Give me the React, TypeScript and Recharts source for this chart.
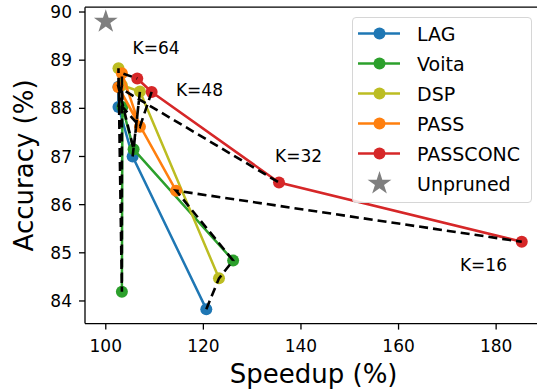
import React from 'react'
import { ScatterChart, Scatter, XAxis, YAxis, ReferenceLine } from 'recharts'

// pruning budgets, one point per K in each method
const K_VALUES = [64, 48, 32, 16]

const LAG_SPEEDUP = [102.6, 102.6, 105.5, 120.6]
const LAG_ACC = [88.45, 88.03, 87.0, 83.83]

const VOITA_SPEEDUP = [103.3, 103.4, 105.7, 126.1]
const VOITA_ACC = [84.19, 88.03, 87.15, 84.84]

const DSP_SPEEDUP = [102.6, 103.3, 107.0, 123.2]
const DSP_ACC = [88.83, 88.48, 88.35, 84.47]

const PASS_SPEEDUP = [103.3, 107.0, 102.6, 114.4]
const PASS_ACC = [88.73, 87.62, 88.44, 86.29]

const PASSCONC_SPEEDUP = [106.45, 109.4, 135.5, 185.25]
const PASSCONC_ACC = [88.62, 88.34, 86.46, 85.23]

const UNPRUNED_SPEEDUP = [100]
const UNPRUNED_ACC = [89.8]

// K annotations next to the PASSCONC curve
const K_LABELS = ['K=64', 'K=48', 'K=32', 'K=16']
const K_LABEL_X = [110.3, 119.2, 139.5, 177.4]
const K_LABEL_Y = [89.25, 88.38, 87.01, 84.75]

const X_TICKS = [100, 120, 140, 160, 180]
const Y_TICKS = [84, 85, 86, 87, 88, 89, 90]
const X_DOMAIN: [number, number] = [95.74, 189.46]
const Y_DOMAIN: [number, number] = [83.53, 90.1]

const FONT = '"DejaVu Sans", Verdana, sans-serif'

const toPoints = (xs: number[], ys: number[]) =>
  xs.map((x, i) => ({ x, y: ys[i], k: K_VALUES[i] }))

const methods = [
  { name: 'LAG', color: '#1f77b4', points: toPoints(LAG_SPEEDUP, LAG_ACC) },
  { name: 'Voita', color: '#2ca02c', points: toPoints(VOITA_SPEEDUP, VOITA_ACC) },
  { name: 'DSP', color: '#bcbd22', points: toPoints(DSP_SPEEDUP, DSP_ACC) },
  { name: 'PASS', color: '#ff7f0e', points: toPoints(PASS_SPEEDUP, PASS_ACC) },
  { name: 'PASSCONC', color: '#d62728', points: toPoints(PASSCONC_SPEEDUP, PASSCONC_ACC) },
]

// dashed iso-K curves visit the methods in this order
const K_CURVE_ORDER = ['LAG', 'DSP', 'Voita', 'PASS', 'PASSCONC']
const kCurves = K_VALUES.map((k, i) => ({
  k,
  points: K_CURVE_ORDER.map((n) => methods.find((m) => m.name === n)!.points[i]),
}))

const unpruned = UNPRUNED_SPEEDUP.map((x, i) => ({ x, y: UNPRUNED_ACC[i] }))
const kLabels = K_LABELS.map((text, i) => ({ x: K_LABEL_X[i], y: K_LABEL_Y[i], text }))

function starPoints(cx: number, cy: number, R: number) {
  const r = R * 0.382
  const pts: string[] = []
  for (let i = 0; i < 10; i++) {
    const a = -Math.PI / 2 + (i * Math.PI) / 5
    const rad = i % 2 === 0 ? R : r
    pts.push(`${cx + rad * Math.cos(a)},${cy + rad * Math.sin(a)}`)
  }
  return pts.join(' ')
}

const dot = (color: string) => (p: any) => <circle cx={p.cx} cy={p.cy} r={6} fill={color} />
const star = (p: any) => <polygon points={starPoints(p.cx, p.cy, 12.5)} fill="#7f7f7f" />
const noMarker = () => <g />
const kText = (p: any) => (
  <text x={p.cx} y={p.cy} dy={6.2} textAnchor="middle" fontSize={17} fontFamily={FONT} fill="#000">
    {p.payload.text}
  </text>
)

function LegendBox() {
  const rows = [
    ...methods.map((m) => ({ name: m.name, color: m.color, star: false })),
    { name: 'Unpruned', color: '#7f7f7f', star: true },
  ]
  return (
    <div
      style={{
        position: 'absolute', left: 352, top: 17, width: 180, height: 186,
        border: '1px solid #d6d6d6', borderRadius: 4, boxSizing: 'border-box',
        background: 'rgba(255,255,255,0.85)',
      }}
    >
      <svg width={178} height={184} style={{ display: 'block' }}>
        {rows.map((r, i) => {
          const cy = 15.5 + i * 30
          return (
            <g key={r.name}>
              {r.star ? (
                <polygon points={starPoints(26.5, cy, 12.5)} fill={r.color} />
              ) : (
                <>
                  <line x1={5} x2={47} y1={cy} y2={cy} stroke={r.color} strokeWidth={2.5} />
                  <circle cx={26.5} cy={cy} r={6} fill={r.color} />
                </>
              )}
              <text x={64} y={cy} dy={7} fontSize={19} fontFamily={FONT} fill="#000">
                {r.name}
              </text>
            </g>
          )
        })}
      </svg>
    </div>
  )
}

export default function App() {
  const axisStroke = { stroke: '#000', strokeWidth: 1.3 }
  const tick = { fontSize: 17, fill: '#000', fontFamily: FONT }
  return (
    <div style={{ position: 'absolute', left: 0, top: 0, width: 537, height: 390, overflow: 'hidden', background: '#fff' }}>
      <ScatterChart width={560} height={390} margin={{ top: 7.2, right: 17.7, bottom: 0, left: 0 }}>
        <XAxis
          type="number"
          dataKey="x"
          domain={X_DOMAIN}
          ticks={X_TICKS}
          allowDataOverflow
          height={66.4}
          tickSize={6}
          tickMargin={10}
          tick={tick}
          axisLine={axisStroke}
          tickLine={axisStroke}
          label={{ value: 'Speedup (%)', position: 'insideBottom', offset: 7, fontSize: 26, fill: '#000', fontFamily: FONT }}
        />
        <YAxis
          type="number"
          dataKey="y"
          domain={Y_DOMAIN}
          ticks={Y_TICKS}
          allowDataOverflow
          width={85}
          tickSize={6}
          tickMargin={7}
          tick={tick}
          axisLine={axisStroke}
          tickLine={axisStroke}
          label={{
            value: 'Accuracy (%)', angle: -90, position: 'insideLeft', offset: 24,
            fontSize: 26, fill: '#000', fontFamily: FONT, style: { textAnchor: 'middle' },
          }}
        />
        <ReferenceLine y={Y_DOMAIN[1]} stroke="#000" strokeWidth={1.3} ifOverflow="visible" />
        <ReferenceLine x={X_DOMAIN[1]} stroke="#000" strokeWidth={1.3} ifOverflow="visible" />

        {methods.map((m) => (
          <Scatter
            key={m.name}
            name={m.name}
            data={m.points}
            fill={m.color}
            line={{ stroke: m.color, strokeWidth: 2.5 }}
            lineType="joint"
            shape={dot(m.color)}
            isAnimationActive={false}
          />
        ))}

        {kCurves.map((c) => (
          <Scatter
            key={`k${c.k}`}
            data={c.points}
            fill="#000"
            line={{ stroke: '#000', strokeWidth: 2.6, strokeDasharray: '9 5' }}
            lineType="joint"
            shape={noMarker}
            isAnimationActive={false}
          />
        ))}

        <Scatter name="Unpruned" data={unpruned} fill="#7f7f7f" shape={star} isAnimationActive={false} />
        <Scatter data={kLabels} fill="#000" shape={kText} isAnimationActive={false} />
      </ScatterChart>
      <LegendBox />
    </div>
  )
}
